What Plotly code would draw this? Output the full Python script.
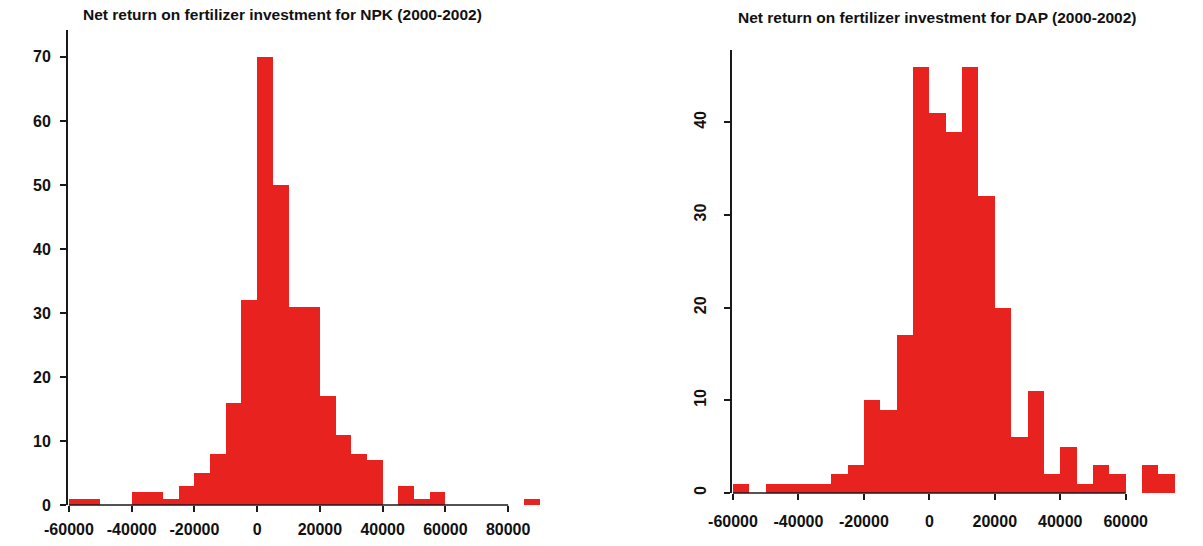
import plotly.graph_objects as go

W, H = 1203, 546

# Bin left edges (width 5000) and counts
npk_edges = [-60000, -55000, -50000, -45000, -40000, -35000, -30000, -25000, -20000,
             -15000, -10000, -5000, 0, 5000, 10000, 15000, 20000, 25000, 30000, 35000,
             40000, 45000, 50000, 55000, 60000, 65000, 70000, 75000, 80000, 85000]
npk_counts = [1, 1, 0, 0, 2, 2, 1, 3, 5,
              8, 16, 32, 70, 50, 31, 31, 17, 11, 8, 7,
              0, 3, 1, 2, 0, 0, 0, 0, 0, 1]

dap_edges = [-60000, -55000, -50000, -45000, -40000, -35000, -30000, -25000, -20000,
             -15000, -10000, -5000, 0, 5000, 10000, 15000, 20000, 25000, 30000, 35000,
             40000, 45000, 50000, 55000, 60000, 65000, 70000]
dap_counts = [1, 0, 1, 1, 1, 1, 2, 3, 10,
              9, 17, 46, 41, 39, 46, 32, 20, 6, 11, 2,
              5, 1, 3, 2, 0, 3, 2]

bin_width = 5000

npk_xticks = [-60000, -40000, -20000, 0, 20000, 40000, 60000, 80000]
npk_xtext = ["-60000", "-40000", "-20000", "0", "20000", "40000", "60000", "80000"]
npk_yticks = [0, 10, 20, 30, 40, 50, 60, 70]

dap_xticks = [-60000, -40000, -20000, 0, 20000, 40000, 60000]
dap_xtext = ["-60000", "-40000", "-20000", "0", "20000", "40000", "60000"]
dap_yticks = [0, 10, 20, 30, 40]

title_npk = "Net return on fertilizer investment for NPK (2000-2002)"
title_dap = "Net return on fertilizer investment for DAP (2000-2002)"

BAR = "#e8221e"
AX = "#1a1a1a"
FONT = "Liberation Sans, Arial, sans-serif"

fig = go.Figure()
for edges, counts, xa, ya in [(npk_edges, npk_counts, "x", "y"),
                              (dap_edges, dap_counts, "x2", "y2")]:
    fig.add_trace(go.Bar(
        x=[e + bin_width / 2 for e in edges], y=counts, width=bin_width,
        marker=dict(color=BAR, line=dict(width=0)),
        xaxis=xa, yaxis=ya, showlegend=False))

tickfont = dict(family=FONT, size=16, color="#111", weight="bold")

def px_x(p):
    return p / W

def px_y(p):
    return 1 - p / H

common = dict(ticks="outside", ticklen=6, tickcolor=AX, tickwidth=1.5,
              showgrid=False, zeroline=False, tickfont=tickfont, automargin=False)

# plot-area pixel boxes: (left, right, bottom, top)
L_BOX = (68, 545, 505, 30)
R_BOX = (732, 1182, 493, 50)

fig.update_layout(
    width=W, height=H, margin=dict(l=0, r=0, t=0, b=0, autoexpand=False),
    paper_bgcolor="white", plot_bgcolor="white", bargap=0,
    xaxis=dict(domain=[px_x(L_BOX[0]), px_x(L_BOX[1])], range=[-60300, 91750],
               tickvals=npk_xticks, ticktext=npk_xtext, showline=False,
               anchor="y", ticklabelstandoff=4, **common),
    yaxis=dict(domain=[px_y(L_BOX[2]), px_y(L_BOX[3])], range=[0, 74.2],
               tickvals=npk_yticks, anchor="x", ticklabelstandoff=6,
               showline=True, linecolor=AX, linewidth=2, layer="above traces",
               **common),
    xaxis2=dict(domain=[px_x(R_BOX[0]), px_x(R_BOX[1])], range=[-60300, 77200],
                tickvals=dap_xticks, ticktext=dap_xtext, showline=False,
                anchor="y2", ticklabelstandoff=8, **common),
    yaxis2=dict(domain=[px_y(R_BOX[2]), px_y(R_BOX[3])], range=[0, 47.8],
                tickvals=dap_yticks, anchor="x2", tickangle=-90,
                ticklabelstandoff=12, showline=True, linecolor=AX, linewidth=1.5,
                layer="above traces", **common),
)

# x axis lines span the tick range only (as in the original)
for xr, box, ticks in [("x", L_BOX, npk_xticks), ("x2", R_BOX, dap_xticks)]:
    fig.add_shape(type="line", xref=xr, yref="paper", x0=min(ticks), x1=max(ticks),
                  y0=px_y(box[2]), y1=px_y(box[2]),
                  line=dict(color=AX, width=1.5), layer="above")

# explicit left y-axis line
fig.add_shape(type="line", xref="paper", yref="paper",
              x0=px_x(L_BOX[0] - 1), x1=px_x(L_BOX[0] - 1),
              y0=px_y(L_BOX[2]), y1=px_y(L_BOX[3]),
              line=dict(color=AX, width=2), layer="above")

fig.add_annotation(text="<b>" + title_npk + "</b>", x=px_x(282), y=px_y(14),
                   xref="paper", yref="paper", showarrow=False,
                   xanchor="center", yanchor="middle",
                   font=dict(family=FONT, size=15.5, color="#111"))
fig.add_annotation(text="<b>" + title_dap + "</b>", x=px_x(937), y=px_y(18),
                   xref="paper", yref="paper", showarrow=False,
                   xanchor="center", yanchor="middle",
                   font=dict(family=FONT, size=15.5, color="#111"))

fig.write_html("out.html")
